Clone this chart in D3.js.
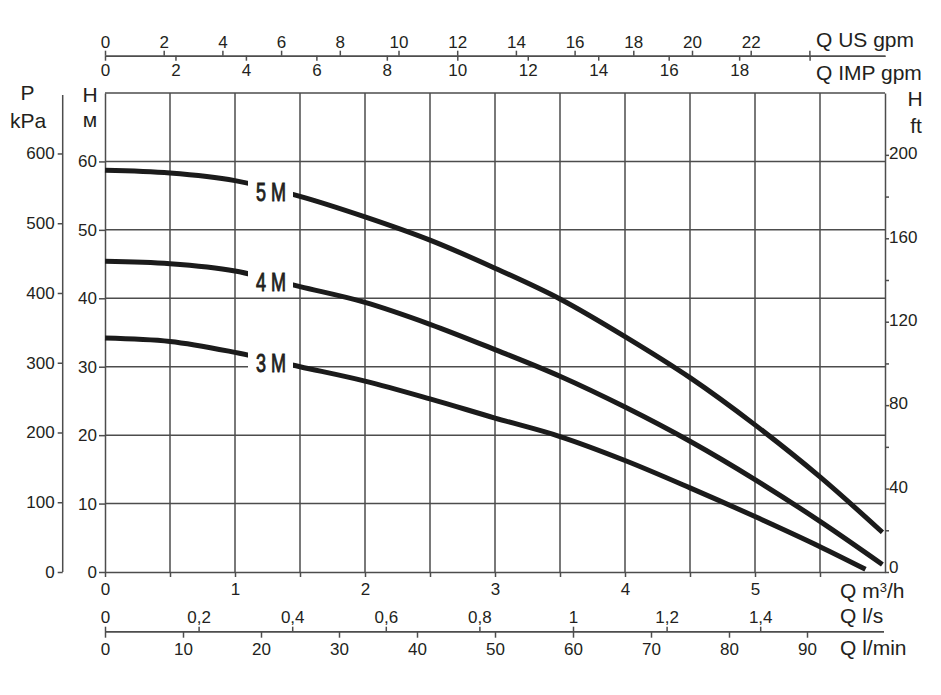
<!DOCTYPE html>
<html>
<head>
<meta charset="utf-8">
<script src="https://cdn.jsdelivr.net/npm/d3@7"></script>
<style>
  body { margin: 0; background: #fff; }
  text { font-family: "Liberation Sans", Arial, sans-serif; fill: #231f20; }
</style>
</head>
<body>
<script>
const width = 941;
const height = 695;

// pump curves: flow in m3/h, head in m
const q5M = [0, 0.5, 1, 1.5, 2, 2.5, 3, 3.5, 4, 4.5, 5, 5.5, 5.98];
const h5M = [58.7, 58.3, 57.2, 54.9, 51.9, 48.5, 44.4, 39.9, 34.4, 28.4, 21.5, 13.9, 5.8];
const q4M = [0, 0.5, 1, 1.5, 2, 2.5, 3, 3.5, 4, 4.5, 5, 5.5, 5.98];
const h4M = [45.4, 45.05, 44.0, 41.7, 39.4, 36.2, 32.5, 28.6, 24.1, 19.1, 13.5, 7.4, 1.1];
const q3M = [0, 0.5, 1, 1.5, 2, 2.5, 3, 3.5, 4, 4.5, 5, 5.5, 5.85];
const h3M = [34.2, 33.7, 32.1, 30.0, 27.9, 25.3, 22.5, 19.8, 16.3, 12.3, 8.1, 3.7, 0.4];
const seriesNames = ['5 M', '4 M', '3 M'];
const labelQ = 1.3;

// tick values
const m3hTicks = d3.range(0, 6, 0.5);
const headTicks = d3.range(0, 61, 10);
const kpaTicks = d3.range(0, 601, 100);
const ftTicks = d3.range(0, 201, 20);
const usTicks = d3.range(0, 25, 2);
const impTicks = d3.range(0, 21, 2);
const lsTicks = d3.range(0, 1.41, 0.2);
const lminTicks = d3.range(0, 91, 10);

const svg = d3.select('body')
    .append('svg')
    .attr('width', width)
    .attr('height', height);

const pLeft = 105, pRight = 885, pTop = 93, pBottom = 572;

const x = d3.scaleLinear().domain([0, 6]).range([pLeft, pRight]);
const y = d3.scaleLinear().domain([0, 70]).range([pBottom, pTop]);
const yKpa = d3.scaleLinear().domain([0, 70 * 9.81]).range([pBottom, pTop]);
const yFt = d3.scaleLinear().domain([0, 70 * 3.2808]).range([pBottom, pTop]);
// the printed top scales run a bit short of the exact conversion
const xUS = d3.scaleLinear().domain([0, 780 / 29.35]).range([pLeft, pRight]);
const xIMP = d3.scaleLinear().domain([0, 780 / 35.23]).range([pLeft, pRight]);
const xLs = d3.scaleLinear().domain([0, 6 / 3.6]).range([pLeft, pRight]);
const xLmin = d3.scaleLinear().domain([0, 100]).range([pLeft, pRight]);

const axisColor = '#4d4d4d';
const fmtComma = d => d3.format('.1f')(d).replace('.', ',');

const styleAxis = (g, fontSize) => {
  g.attr('font-family', null).attr('font-size', null);
  g.selectAll('path.domain').attr('stroke', axisColor).attr('stroke-width', 1.5);
  g.selectAll('.tick line').attr('stroke', axisColor).attr('stroke-width', 1.5);
  g.selectAll('.tick text')
    .style('font-family', '"Liberation Sans", Arial, sans-serif')
    .style('font-size', fontSize + 'px')
    .attr('fill', '#231f20');
};

// grid
const grid = svg.append('g');
grid.selectAll('line.v')
  .data(m3hTicks.filter(d => d > 0))
  .enter().append('line')
  .attr('x1', d => x(d)).attr('x2', d => x(d))
  .attr('y1', pTop).attr('y2', pBottom)
  .attr('stroke', axisColor).attr('stroke-width', 1.5);
grid.selectAll('line.h')
  .data(headTicks.filter(d => d > 0))
  .enter().append('line')
  .attr('x1', pLeft).attr('x2', pRight)
  .attr('y1', d => y(d)).attr('y2', d => y(d))
  .attr('stroke', axisColor).attr('stroke-width', 1.5);
grid.append('line')
  .attr('x1', pLeft).attr('x2', pRight)
  .attr('y1', pTop).attr('y2', pTop)
  .attr('stroke', axisColor).attr('stroke-width', 1.5);

// bottom m3/h axis
const gB = svg.append('g').attr('transform', `translate(0,${pBottom})`)
  .call(d3.axisBottom(x).tickValues(m3hTicks).tickSize(5).tickSizeOuter(0).tickPadding(6)
    .tickFormat(d => Number.isInteger(d) ? d : ''));
styleAxis(gB, 17);

// left head axis
const gL = svg.append('g').attr('transform', `translate(${pLeft},0)`)
  .call(d3.axisLeft(y).tickValues(headTicks).tickSize(6).tickSizeOuter(0).tickPadding(2));
styleAxis(gL, 17);

// kPa axis
const gK = svg.append('g').attr('transform', 'translate(62.7,0)')
  .call(d3.axisLeft(yKpa).tickValues(kpaTicks).tickSize(5).tickSizeOuter(0).tickPadding(3));
styleAxis(gK, 17);
gK.select('path.domain').attr('d', `M0,${pBottom}V${pTop + 2}`);

// ft axis
const gR = svg.append('g').attr('transform', `translate(${pRight},0)`)
  .call(d3.axisRight(yFt).tickValues(ftTicks).tickSize(4).tickSizeOuter(0).tickPadding(0)
    .tickFormat(d => d % 40 === 0 ? d : ''));
styleAxis(gR, 17);
gR.selectAll('.tick text').attr('dy', d => d === 0 ? '0.02em' : '0.22em');

// top gpm axes
const topY = 55.7;
const gUS = svg.append('g').attr('transform', `translate(0,${topY})`)
  .call(d3.axisTop(xUS).tickValues(usTicks).tickSize(5).tickSizeOuter(0).tickPadding(3)
    .tickFormat(d => d <= 22 ? d : ''));
styleAxis(gUS, 17);
const gIMP = svg.append('g').attr('transform', `translate(0,${topY})`)
  .call(d3.axisBottom(xIMP).tickValues(impTicks).tickSize(5).tickSizeOuter(0).tickPadding(3)
    .tickFormat(d => d <= 18 ? d : ''));
styleAxis(gIMP, 17);

// bottom l/s and l/min axes
const lowY = 631.7;
const gLs = svg.append('g').attr('transform', `translate(0,${lowY})`)
  .call(d3.axisTop(xLs).tickValues(lsTicks).tickSize(5).tickSizeOuter(0).tickPadding(3.5)
    .tickFormat(d => d === 0 ? '0' : (Math.abs(d - 1) < 1e-9 ? '1' : fmtComma(d))));
styleAxis(gLs, 17);
gLs.select('path.domain').attr('d', `M${pLeft},0H${pRight - 1}`);
const gLmin = svg.append('g').attr('transform', `translate(0,${lowY})`)
  .call(d3.axisBottom(xLmin).tickValues(lminTicks).tickSize(6).tickSizeOuter(0).tickPadding(5));
styleAxis(gLmin, 17);
gLmin.select('path.domain').attr('d', `M${pLeft},0H${pRight - 1}`);

// curves
const line = d3.line()
  .x(d => x(d[0]))
  .y(d => y(d[1]))
  .curve(d3.curveMonotoneX);

const curves = [[q5M, h5M], [q4M, h4M], [q3M, h3M]];
curves.forEach(([qs, hs], i) => {
  const pts = qs.map((q, j) => [q, hs[j]]);
  svg.append('path')
    .datum(pts)
    .attr('d', line)
    .attr('fill', 'none')
    .attr('stroke', '#1b1b1b')
    .attr('stroke-width', 5);

  const hAt = d3.scaleLinear().domain(qs).range(hs)(labelQ);
  const cx = x(labelQ) - 3, cy = y(hAt) + 2;
  svg.append('rect')
    .attr('x', cx - 23).attr('y', cy - 12)
    .attr('width', 45).attr('height', 24)
    .attr('fill', '#fff');
  svg.append('text')
    .attr('transform', `translate(${cx},${cy + 9}) scale(0.72,1)`)
    .attr('text-anchor', 'middle')
    .style('font-size', '25px')
    .style('stroke', '#231f20')
    .style('stroke-width', 0.9)
    .text(seriesNames[i]);
});

// unit titles
const titles = [
  { t: 'P', x: 27.5, y: 100, a: 'middle' },
  { t: 'kPa', x: 28, y: 128, a: 'middle' },
  { t: 'H', x: 90, y: 102, a: 'middle' },
  { t: 'м', x: 90, y: 127, a: 'middle' },
  { t: 'H', x: 915, y: 106, a: 'middle' },
  { t: 'ft', x: 916, y: 133, a: 'middle' },
  { t: 'Q US gpm', x: 816, y: 47, a: 'start' },
  { t: 'Q IMP gpm', x: 816, y: 80, a: 'start' },
  { t: 'Q l/s', x: 840, y: 623, a: 'start' },
  { t: 'Q l/min', x: 840, y: 655, a: 'start' }
];
svg.selectAll('text.title')
  .data(titles)
  .enter().append('text')
  .attr('class', 'title')
  .attr('x', d => d.x).attr('y', d => d.y)
  .attr('text-anchor', d => d.a)
  .style('font-size', '21px')
  .text(d => d.t);

const qm = svg.append('text')
  .attr('x', 840).attr('y', 598)
  .style('font-size', '21px');
qm.append('tspan').text('Q m');
qm.append('tspan').attr('dy', -6).style('font-size', '13px').text('3');
qm.append('tspan').attr('dy', 6).text('/h');
</script>
</body>
</html>
